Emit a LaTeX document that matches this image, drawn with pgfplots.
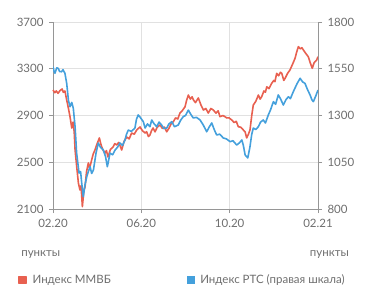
\documentclass[border=0pt]{standalone}
\usepackage{pgfplots}
\pgfplotsset{compat=1.18}
\usepackage{fontspec}
\setmainfont{Lato}
\definecolor{mred}{RGB}{232,96,80}
\definecolor{mblue}{RGB}{68,160,220}
\definecolor{txt}{RGB}{110,110,110}
\definecolor{gridc}{RGB}{225,225,225}
\definecolor{axc}{RGB}{150,150,150}
\pgfplotstableread{
m v
0.00 3118
0.08 3095
0.15 3110
0.23 3090
0.31 3112
0.41 3127
0.47 3098
0.54 3110
0.62 3033
0.70 2960
0.77 2890
0.85 2793
0.91 2844
0.96 2760
1.00 2605
1.08 2450
1.15 2322
1.22 2263
1.27 2300
1.33 2120
1.40 2260
1.45 2288
1.52 2420
1.60 2494
1.66 2450
1.75 2519
1.82 2570
1.90 2605
2.00 2660
2.10 2708
2.16 2660
2.21 2630
2.28 2600
2.36 2579
2.42 2600
2.49 2545
2.60 2610
2.72 2630
2.80 2660
2.88 2648
2.98 2670
3.11 2605
3.22 2680
3.34 2716
3.45 2700
3.56 2750
3.68 2740
3.79 2776
3.94 2802
4.05 2770
4.17 2750
4.24 2761
4.32 2720
4.39 2733
4.46 2770
4.53 2793
4.62 2760
4.72 2800
4.85 2819
4.95 2790
5.05 2800
5.15 2761
5.25 2790
5.35 2830
5.45 2847
5.55 2880
5.65 2870
5.75 2921
5.85 2940
5.98 2975
6.05 3030
6.13 3075
6.22 3040
6.30 3060
6.36 3033
6.45 3010
6.58 3050
6.70 2990
6.81 2947
6.92 2960
7.03 2921
7.15 2960
7.26 2947
7.38 2920
7.48 2940
7.56 2890
7.70 2900
7.87 2879
7.97 2880
8.09 2862
8.20 2840
8.30 2850
8.39 2804
8.50 2800
8.62 2776
8.70 2760
8.77 2708
8.85 2740
8.92 2776
9.00 2900
9.07 2990
9.18 3020
9.30 3075
9.38 3040
9.45 3061
9.55 3110
9.62 3100
9.68 3146
9.78 3130
9.90 3175
10.00 3200
10.05 3190
10.13 3261
10.22 3240
10.30 3270
10.36 3261
10.45 3200
10.51 3218
10.62 3260
10.73 3289
10.85 3340
10.96 3389
11.03 3440
11.11 3489
11.20 3470
11.27 3480
11.34 3460
11.45 3430
11.56 3403
11.65 3350
11.74 3304
11.82 3350
11.94 3375
12.00 3403
}\mmvb
\pgfplotstableread{
m r
0.00 1561
0.05 1535
0.09 1526
0.17 1555
0.24 1552
0.30 1535
0.39 1534
0.45 1545
0.54 1526
0.62 1472
0.70 1380
0.77 1347
0.85 1370
0.92 1338
1.00 1240
1.07 1099
1.18 992
1.25 1000
1.30 939
1.37 866
1.45 930
1.53 973
1.60 1000
1.68 1026
1.75 990
1.83 1008
1.95 1100
2.05 1153
2.15 1130
2.28 1115
2.38 1080
2.46 1026
2.52 1060
2.58 1099
2.70 1090
2.81 1115
2.92 1130
3.03 1153
3.15 1140
3.26 1169
3.33 1200
3.41 1222
3.55 1215
3.71 1233
3.78 1280
3.86 1303
3.95 1290
4.09 1267
4.17 1233
4.28 1255
4.39 1240
4.47 1276
4.58 1255
4.70 1240
4.80 1265
4.92 1249
5.02 1230
5.15 1233
5.25 1255
5.38 1267
5.50 1240
5.67 1249
5.78 1275
5.90 1294
6.00 1300
6.13 1329
6.22 1310
6.35 1287
6.50 1290
6.66 1276
6.80 1250
6.96 1213
7.08 1240
7.19 1260
7.30 1225
7.41 1196
7.55 1200
7.71 1180
7.85 1175
8.02 1160
8.15 1165
8.32 1142
8.45 1155
8.55 1169
8.62 1140
8.70 1089
8.82 1073
8.92 1133
9.00 1200
9.07 1233
9.18 1225
9.30 1240
9.40 1265
9.52 1276
9.62 1260
9.75 1303
9.85 1330
9.98 1374
10.08 1360
10.20 1410
10.30 1390
10.43 1356
10.55 1385
10.66 1400
10.75 1390
10.88 1427
11.05 1470
11.19 1499
11.30 1480
11.41 1472
11.52 1440
11.64 1410
11.72 1385
11.79 1374
11.90 1405
12.00 1436
}\rts
\pgfplotsset{
  base/.style={
    scale only axis, width=265bp, height=187bp,
    xmin=0, xmax=12,
    xtick={0,4,8,12},
    tick label style={font=\fontsize{11.5bp}{13bp}\selectfont, text=txt},
    /pgf/number format/assume math mode=true,
    /pgf/number format/1000 sep={},
    tick align=outside, major tick length=4bp,
    tick style={axc, line width=0.6bp},
    axis line style={axc, line width=0.8bp},
  }
}
\begin{document}
\begin{tikzpicture}
\path[use as bounding box] (-53bp,-94bp) rectangle (318bp,209bp);
\begin{axis}[base,
  at={(0,0)}, anchor=south west,
  ymin=2100, ymax=3700, ytick={2100,2500,2900,3300,3700},
  axis x line*=bottom, axis y line*=left,
  xticklabels={02.20,06.20,10.20,02.21},
  xticklabel style={yshift=-3bp},
  yticklabel style={xshift=-2bp},
  grid=major, grid style={gridc, line width=0.6bp},
  legend columns=2,
  legend style={at={(rel axis cs:-0.133,-0.38)}, anchor=west, draw=none, fill=none,
    inner sep=0pt, font=\fontsize{11.5bp}{13bp}\selectfont, text=txt,
    /tikz/every even column/.append style={column sep=74bp}},
  legend image code/.code={\fill (0bp,-3.5bp) rectangle (7bp,3.5bp); \path (11bp,0bp);},
  clip=false,
]
\addplot[color=mred, line width=1.6bp, line join=round] table[x=m,y=v]{\mmvb};
\addlegendentry{Индекс ММВБ}
\addlegendimage{color=mblue}
\addlegendentry{Индекс РТС (правая шкала)}
\node[anchor=west, text=txt, font=\fontsize{11.5bp}{13bp}\selectfont] at (rel axis cs:-0.133,-0.245) {пункты};
\node[anchor=east, text=txt, font=\fontsize{11.5bp}{13bp}\selectfont] at (rel axis cs:1.13,-0.245) {пункты};
\end{axis}
\begin{axis}[base,
  at={(0,0)}, anchor=south west,
  ymin=800, ymax=1800, ytick={800,1050,1300,1550,1800},
  axis x line=none, axis y line*=right,
  yticklabel style={xshift=2bp},
  xticklabels={},
]
\addplot[color=mblue, line width=1.6bp, line join=round] table[x=m,y=r]{\rts};
\end{axis}
\end{tikzpicture}
\end{document}
